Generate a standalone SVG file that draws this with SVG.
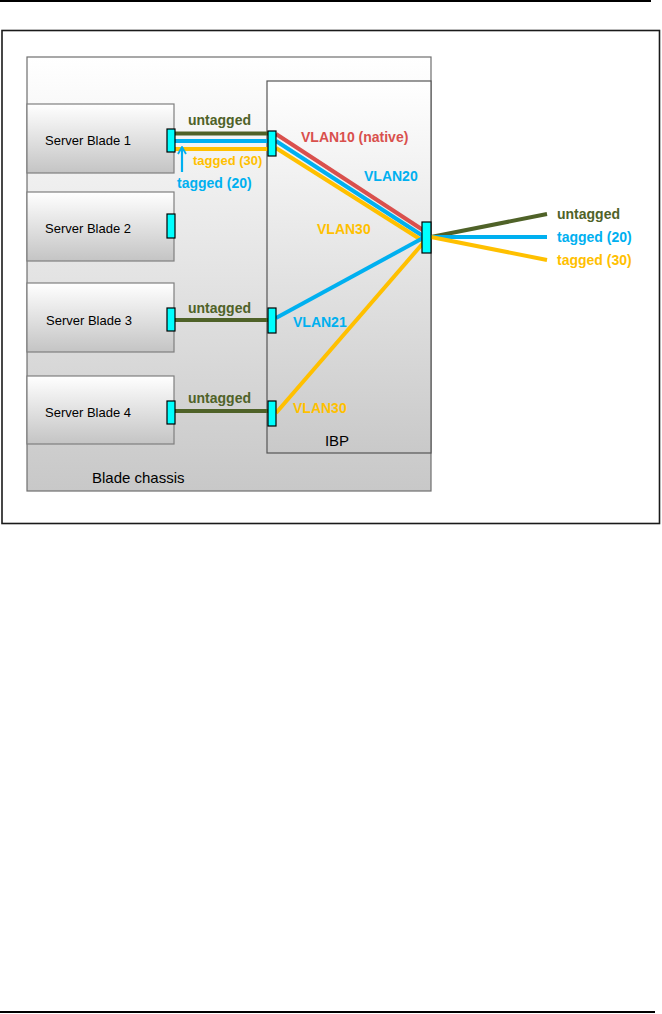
<svg xmlns="http://www.w3.org/2000/svg" width="662" height="1014" viewBox="0 0 662 1014">
<style>
.lbl{font-family:"Liberation Sans",Arial,sans-serif;font-weight:bold;font-size:14px}
.srv{font-family:"Liberation Sans",Arial,sans-serif;font-size:13px;fill:#000}
.big{font-family:"Liberation Sans",Arial,sans-serif;font-size:15px;fill:#000}
.port{fill:#00ffff;stroke:#000;stroke-width:1.2}
.blade{fill:url(#gBlade);stroke:#7f7f7f;stroke-width:1.2}
.g{stroke:#4f6228}
.b{stroke:#00b0f0}
.y{stroke:#ffc000}
.r{stroke:#d9504d}
.ln{fill:none;stroke-width:4}
.tg{fill:#4f6228}.tb{fill:#00b0f0}.ty{fill:#ffc000}.tr{fill:#d9504d}
</style>
<defs>
<linearGradient id="gChassis" x1="0" y1="0" x2="0" y2="1">
<stop offset="0" stop-color="#ffffff"/>
<stop offset="1" stop-color="#c8c8c8"/>
</linearGradient>
<linearGradient id="gIbp" x1="0" y1="0" x2="0" y2="1">
<stop offset="0" stop-color="#ffffff"/>
<stop offset="1" stop-color="#c9c9c9"/>
</linearGradient>
<linearGradient id="gBlade" x1="0" y1="0" x2="0" y2="1">
<stop offset="0" stop-color="#ffffff"/>
<stop offset="1" stop-color="#c4c4c4"/>
</linearGradient>
<marker id="arr" viewBox="0 0 10 10" refX="9" refY="5" markerWidth="10" markerHeight="10" markerUnits="userSpaceOnUse" orient="auto">
<path d="M2,1 L9,5 L2,9" fill="none" stroke="#00b0f0" stroke-width="1.8"/>
</marker>
</defs>
<rect width="662" height="1014" fill="#ffffff"/>
<line x1="0" y1="1" x2="651" y2="1" stroke="#000" stroke-width="2"/>
<line x1="0" y1="1012" x2="655" y2="1012" stroke="#000" stroke-width="2"/>
<rect x="2" y="30.5" width="657.5" height="493" fill="none" stroke="#1a1a1a" stroke-width="1.6"/>

<g id="chassis">
<rect x="27" y="57" width="404" height="434" fill="url(#gChassis)" stroke="#6f6f6f" stroke-width="1.2"/>
<text class="big" x="92" y="483">Blade chassis</text>
</g>
<g id="ibp">
<rect x="267" y="81" width="164" height="372" fill="url(#gIbp)" stroke="#555" stroke-width="1.2"/>
<text class="big" x="337" y="446" text-anchor="middle">IBP</text>
</g>
<g id="blade1">
<rect class="blade" x="27" y="104" width="147" height="69"/>
<text class="srv" x="45" y="145">Server Blade 1</text>
</g>
<g id="blade2">
<rect class="blade" x="27" y="192" width="147" height="69"/>
<text class="srv" x="45" y="233">Server Blade 2</text>
</g>
<g id="blade3">
<rect class="blade" x="27" y="283" width="147" height="69"/>
<text class="srv" x="46" y="325">Server Blade 3</text>
</g>
<g id="blade4">
<rect class="blade" x="27" y="376" width="147" height="68"/>
<text class="srv" x="45" y="417">Server Blade 4</text>
</g>

<g id="connectors">
<line class="ln g" x1="175" y1="133.5" x2="268" y2="133.5"/>
<line class="ln b" x1="175" y1="141" x2="268" y2="141"/>
<line class="ln y" x1="175" y1="149" x2="268" y2="149"/>
<line class="ln r" x1="276" y1="134" x2="423" y2="230"/>
<line class="ln b" x1="276" y1="141" x2="423" y2="236"/>
<line class="ln y" x1="276" y1="148" x2="423" y2="241"/>
<line class="ln g" x1="175" y1="320" x2="268" y2="320"/>
<line class="ln b" x1="276" y1="318" x2="423" y2="238"/>
<line class="ln g" x1="175" y1="411" x2="268" y2="411"/>
<line class="ln y" x1="276" y1="413" x2="424" y2="242"/>
<line class="ln g" x1="431" y1="237" x2="547" y2="214" stroke-width="5"/>
<line class="ln b" x1="431" y1="237" x2="547" y2="237" stroke-width="5"/>
<line class="ln y" x1="431" y1="237" x2="547" y2="260" stroke-width="5"/>
<line x1="182" y1="172" x2="182" y2="147" stroke="#00b0f0" stroke-width="2.2" marker-end="url(#arr)"/>
</g>

<g id="ports">
<rect class="port" x="167" y="129" width="8" height="23"/>
<rect class="port" x="167" y="214" width="8" height="24"/>
<rect class="port" x="167" y="308" width="8" height="23"/>
<rect class="port" x="167" y="401" width="8" height="23"/>
<rect class="port" x="268" y="131" width="8" height="25"/>
<rect class="port" x="268" y="308" width="8" height="25"/>
<rect class="port" x="268" y="401" width="8" height="25"/>
<rect class="port" x="422" y="222" width="9" height="31"/>
</g>

<g id="labels">
<text class="lbl tg" x="188" y="125">untagged</text>
<text class="lbl ty" x="193" y="165" style="font-size:13px">tagged (30)</text>
<text class="lbl tb" x="177" y="188">tagged (20)</text>
<text class="lbl tr" x="301" y="142">VLAN10 (native)</text>
<text class="lbl tb" x="364" y="181">VLAN20</text>
<text class="lbl ty" x="317" y="234">VLAN30</text>
<text class="lbl tg" x="188" y="313">untagged</text>
<text class="lbl tb" x="293" y="327">VLAN21</text>
<text class="lbl tg" x="188" y="403">untagged</text>
<text class="lbl ty" x="293" y="413">VLAN30</text>
<text class="lbl tg" x="557" y="219">untagged</text>
<text class="lbl tb" x="557" y="242">tagged (20)</text>
<text class="lbl ty" x="557" y="265">tagged (30)</text>
</g>
</svg>
